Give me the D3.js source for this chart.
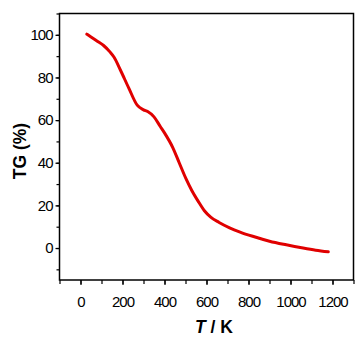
<!DOCTYPE html>
<html lang="en">
<head>
<meta charset="utf-8">
<script src="https://d3js.org/d3.v7.min.js"></script>
<style>
  body { margin: 0; background: #fff; }
  .tick text { font-family: "Liberation Sans", Arial, sans-serif; font-size: 15px; letter-spacing: -1px; fill: #000; }
  .title { font-family: "Liberation Sans", Arial, sans-serif; font-weight: bold; font-size: 17.5px; fill: #000; }
</style>
</head>
<body>
<svg id="chart" width="359" height="342"></svg>
<script>
// temperature (K) and mass (%)
const temps = [30, 50, 80, 110, 140, 160, 190, 230, 270, 300, 320, 350, 380, 400, 440, 470, 500, 530, 560, 590, 620, 660, 710, 760, 820, 900, 980, 1060, 1120, 1180];
const tg    = [100.3, 99, 97, 95, 92, 89.5, 83.5, 75, 67, 64.8, 64, 61.5, 57, 54, 47, 40, 33, 27, 22, 17.5, 14.5, 12, 9.5, 7.5, 5.5, 3.2, 1.5, 0, -1, -1.8];
const xTicks = [0, 200, 400, 600, 800, 1000, 1200];
const yTicks = [0, 20, 40, 60, 80, 100];

const svg = d3.select("#chart");
const mLeft = 59.5, mRight = 353.5, mTop = 13.5, mBottom = 280;

const x = d3.scaleLinear().domain([-100, 1300]).range([mLeft, mRight]);
const y = d3.scaleLinear().domain([-15, 110]).range([mBottom, mTop]);

// frame
svg.append("rect")
  .attr("x", mLeft).attr("y", mTop)
  .attr("width", mRight - mLeft).attr("height", mBottom - mTop)
  .attr("fill", "none").attr("stroke", "#000").attr("stroke-width", 1.5);

// minor ticks
svg.append("g").attr("transform", `translate(0,${mBottom})`)
  .call(d3.axisBottom(x).tickValues(d3.range(-100, 1301, 100)).tickSize(4).tickFormat(""))
  .call(g => g.select(".domain").remove());
svg.append("g").attr("transform", `translate(${mLeft},0)`)
  .call(d3.axisLeft(y).tickValues(d3.range(-10, 111, 10)).tickSize(3).tickFormat(""))
  .call(g => g.select(".domain").remove());

// major ticks
svg.append("g").attr("transform", `translate(0,${mBottom})`)
  .call(d3.axisBottom(x).tickValues(xTicks).tickSize(5).tickPadding(11).tickFormat(d3.format("d")))
  .call(g => g.select(".domain").remove());
svg.append("g").attr("transform", `translate(${mLeft},0)`)
  .call(d3.axisLeft(y).tickValues(yTicks).tickSize(4).tickPadding(3).tickFormat(d3.format("d")))
  .call(g => g.select(".domain").remove());

svg.selectAll(".tick line").attr("stroke", "#000").attr("stroke-width", 1.2);

// curve
const pts = temps.map((t, i) => [t, tg[i]]);
svg.append("path")
  .datum(pts)
  .attr("fill", "none")
  .attr("stroke", "#e00000")
  .attr("stroke-width", 3)
  .attr("stroke-linecap", "round")
  .attr("d", d3.line().x(d => x(d[0])).y(d => y(d[1])).curve(d3.curveMonotoneX));

// axis titles
const xt = svg.append("text").attr("class", "title")
  .attr("x", 214).attr("y", 333).attr("text-anchor", "middle");
xt.append("tspan").attr("font-style", "italic").text("T");
xt.append("tspan").text(" / K");

svg.append("text").attr("class", "title")
  .attr("transform", "translate(26,151) rotate(-90)")
  .attr("text-anchor", "middle")
  .text("TG (%)");
</script>
</body>
</html>
